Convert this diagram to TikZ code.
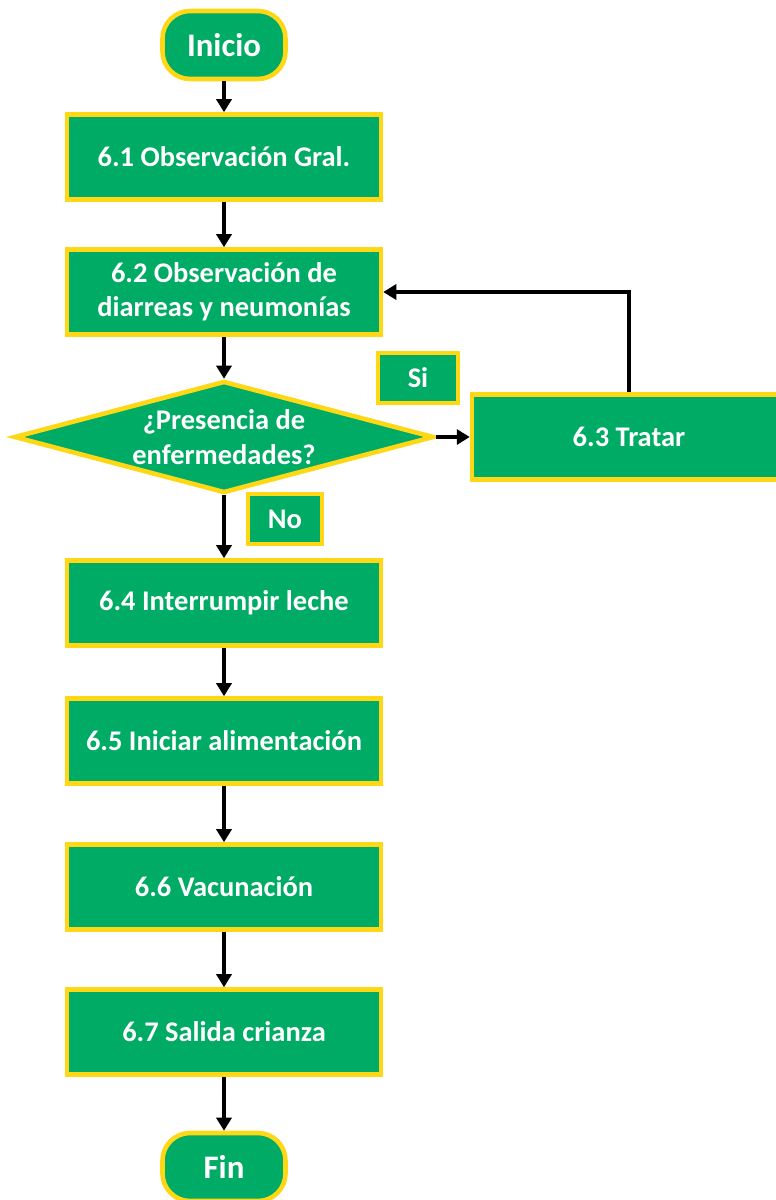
\documentclass[tikz,border=0pt]{standalone}
\usepackage{fontspec}
\setmainfont{Carlito}
\usetikzlibrary{shapes.geometric}
\usetikzlibrary{arrows.meta}
\definecolor{hoja}{RGB}{0,172,101}
\definecolor{oro}{RGB}{255,215,20}
\newcommand{\txt}{\bfseries\fontsize{16.2}{19.6}\selectfont}
\tikzset{
  paso/.style={draw=oro, fill=hoja, line width=2.6pt, text=white, font=\txt,
    minimum width=6.28cm, minimum height=1.7cm, align=center, inner sep=0pt},
  extremo/.style={draw=oro, fill=hoja, line width=2.6pt, text=white,
    font=\bfseries\fontsize{18.7}{22}\selectfont, rounded corners=0.55cm,
    minimum width=2.46cm, minimum height=1.36cm, inner sep=0pt},
  rombo/.style={draw=oro, fill=hoja, line width=2.6pt, text=white, font=\txt,
    diamond, aspect=3.6, minimum width=8.4cm, minimum height=2.24cm, align=center, inner sep=0pt},
  etiqueta/.style={draw=oro, fill=hoja, line width=2.6pt, text=white, font=\txt,
    minimum height=1.0cm, inner sep=0pt},
  flecha/.style={->, line width=2.2pt, black}
}
\begin{document}
\begin{tikzpicture}[x=0.02cm,y=-0.02cm,>={Triangle[length=0.26cm,width=0.3cm]}]
      \useasboundingbox (0,0) rectangle (776,1200);
      \node[extremo] (ini) at (224,45) {Inicio};
      \node[paso] (obs1) at (224,157) {6.1 Observación Gral.};
      \node[paso] (obs2) at (224,292) {6.2 Observación de\\diarreas y neumonías};
      \node[rombo] (pres) at (224,437) {¿Presencia de\\enfermedades?};
      \node[paso] (trat) at (629,437) {6.3 Tratar};
      \node[etiqueta, minimum width=1.6cm] (si) at (418,378) {Si};
      \node[etiqueta, minimum width=1.48cm] (no) at (285,519) {No};
      \node[paso] (leche) at (224,603) {6.4 Interrumpir leche};
      \node[paso] (alim) at (224,741) {6.5 Iniciar alimentación};
      \node[paso] (vac) at (224,887) {6.6 Vacunación};
      \node[paso] (sal) at (224,1032) {6.7 Salida crianza};
      \node[extremo] (fin) at (224,1167) {Fin};
      % conectores
      \draw[flecha] (ini) -- (obs1);
      \draw[flecha] (obs1) -- (obs2);
      \draw[flecha] (obs2) -- (pres);
      \draw[flecha] (pres) -- (trat);
      \draw[flecha] (trat.north) |- (obs2.east);
      \draw[flecha] (pres) -- (leche);
      \draw[flecha] (leche) -- (alim);
      \draw[flecha] (alim) -- (vac);
      \draw[flecha] (vac) -- (sal);
      \draw[flecha] (sal) -- (fin);
\end{tikzpicture}
\end{document}
